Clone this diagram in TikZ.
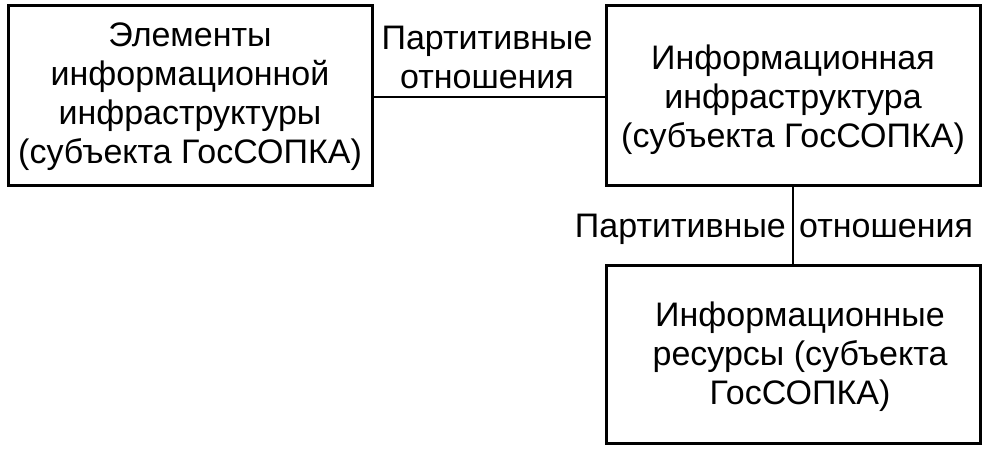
\documentclass[tikz,border=0pt]{standalone}
\usepackage{fontspec}
\setmainfont{Liberation Sans}
\begin{document}
\begin{tikzpicture}[x=1pt,y=-1pt,
  box/.style={draw=black,line width=3pt,rectangle,inner sep=0pt},
  txt/.style={align=center,inner sep=0pt,font=\fontsize{34}{39}\selectfont},
  conn/.style={draw=black,line width=1.3pt}]
\useasboundingbox (0,0) rectangle (990,450);
\node[box,minimum width=364pt,minimum height=180pt] (elem) at (190,95) {};
\node[box,minimum width=374pt,minimum height=180pt] (infra) at (793,95) {};
\node[box,minimum width=374pt,minimum height=178pt] (res) at (793,354) {};
\node[txt] (elemt) at (190,97) {Элементы\\информационной\\инфраструктуры\\(субъекта ГосСОПКА)};
\node[txt] (infrat) at (793,100) {Информационная\\инфраструктура\\(субъекта ГосСОПКА)};
\node[txt] (rest) at (800,357) {Информационные\\ресурсы (субъекта\\ГосСОПКА)};
\draw[conn] (elem.east |- 0,97) coordinate (h1) -- (infra.west |- 0,97) coordinate (h2);
\node[txt] (hlab) at (487,57) {Партитивные\\отношения};
\draw[conn] (infra.south) -- (res.north) coordinate[midway] (vm);
\node[txt,anchor=east] (vlab1) at ([xshift=-7pt,yshift=-4pt]vm) {Партитивные};
\node[txt,anchor=west] (vlab2) at ([xshift=6pt,yshift=-4pt]vm) {отношения};
\end{tikzpicture}
\end{document}
